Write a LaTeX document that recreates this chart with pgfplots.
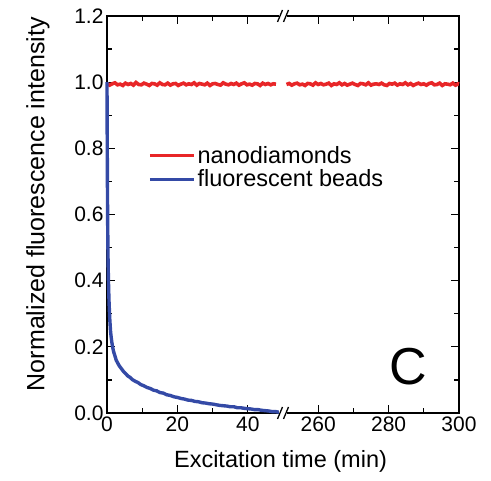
\documentclass[border=0pt]{standalone}
\usepackage{fontspec}
\setmainfont{Liberation Sans}
\usepackage{pgfplots}
\pgfplotsset{compat=1.18}
\usepackage{pgfplotstable}
\usetikzlibrary{calc}
\definecolor{ndred}{RGB}{232,38,40}
\definecolor{beadblue}{RGB}{52,74,166}

% nanodiamonds, first part of the run (min)
\pgfplotstableread{
t y
0 0.996
0.75 0.991
1.5 0.995
2.25 0.998
3 0.992
3.75 0.994
4.5 0.990
5.25 0.997
6 0.993
6.75 0.996
7.5 0.991
8.25 0.999
9 0.993
9.75 0.992
10.5 0.997
11.25 0.994
12 0.990
12.75 0.996
13.5 0.995
14.25 0.991
15 0.998
15.75 0.993
16.5 0.992
17.25 0.997
18 0.991
18.75 0.995
19.5 0.996
20.25 0.990
21 0.994
21.75 0.997
22.5 0.992
23.25 0.995
24 0.993
24.75 0.998
25.5 0.991
26.25 0.996
27 0.994
27.75 0.992
28.5 0.997
29.25 0.990
30 0.995
30.75 0.996
31.5 0.993
32.25 0.991
33 0.998
33.75 0.994
34.5 0.992
35.25 0.996
36 0.993
36.75 0.997
37.5 0.991
38.25 0.995
39 0.998
39.75 0.992
40.5 0.994
41.25 0.991
42 0.996
42.75 0.995
43.5 0.990
44.25 0.997
45 0.993
45.75 0.996
46.5 0.992
47.25 0.995
48 0.994
}\ndA

% nanodiamonds, end of the run (min)
\pgfplotstableread{
t y
251 0.993
251.75 0.996
252.5 0.991
253.25 0.995
254 0.997
254.75 0.992
255.5 0.994
256.25 0.990
257 0.996
257.75 0.995
258.5 0.991
259.25 0.998
260 0.993
260.75 0.996
261.5 0.992
262.25 0.994
263 0.997
263.75 0.990
264.5 0.995
265.25 0.993
266 0.998
266.75 0.992
267.5 0.996
268.25 0.991
269 0.994
269.75 0.997
270.5 0.993
271.25 0.990
272 0.996
272.75 0.995
273.5 0.992
274.25 0.998
275 0.991
275.75 0.994
276.5 0.995
277.25 0.993
278 0.997
278.75 0.992
279.5 0.990
280.25 0.996
281 0.994
281.75 0.997
282.5 0.991
283.25 0.995
284 0.993
284.75 0.998
285.5 0.992
286.25 0.996
287 0.990
287.75 0.994
288.5 0.997
289.25 0.993
290 0.995
290.75 0.991
291.5 0.996
292.25 0.998
293 0.992
293.75 0.993
294.5 0.997
295.25 0.990
296 0.995
296.75 0.994
297.5 0.992
298.25 0.997
299 0.991
299.75 0.995
300 0.994
}\ndB

% fluorescent beads
\pgfplotstableread{
t y
0 1.000
0.05 0.860
0.1 0.735
0.15 0.640
0.2 0.565
0.3 0.465
0.4 0.405
0.5 0.365
0.6 0.330
0.7 0.305
0.8 0.282
0.9 0.265
1.0 0.248
1.2 0.228
1.4 0.212
1.6 0.200
1.8 0.189
2.0 0.181
2.3 0.171
2.6 0.160
3.0 0.152
3.4 0.144
3.8 0.138
4.3 0.131
4.8 0.124
5.3 0.119
5.9 0.112
6.5 0.108
7.2 0.101
8.0 0.096
8.8 0.092
9.6 0.086
10.5 0.082
11.4 0.077
12.3 0.074
13.2 0.069
14.1 0.067
15.0 0.062
16.0 0.060
17.0 0.055
18.0 0.053
19.0 0.049
20.0 0.047
21.0 0.044
22.0 0.042
23.0 0.039
24.0 0.038
25.0 0.035
26.0 0.034
27.0 0.031
28.0 0.030
29.0 0.028
30.0 0.027
31.0 0.025
32.0 0.023
33.0 0.022
34.0 0.021
35.0 0.019
36.0 0.019
37.0 0.016
38.0 0.016
39.0 0.014
40.0 0.013
41.0 0.012
42.0 0.010
43.0 0.010
44.0 0.008
45.0 0.007
46.0 0.006
47.0 0.004
48.0 0.004
49.0 0.002
}\beads

\begin{document}
\begin{tikzpicture}
\begin{axis}[
    scale only axis, width=352pt, height=397pt,
    xmin=0, xmax=100, ymin=0, ymax=1.2,
    axis line style={line width=1.8pt},
    every tick/.style={black, line width=1.3pt},
    tick align=inside,
    major tick length=8pt, minor tick length=5pt,
    xtick={0,20,40,60,80,100},
    xticklabels={0,20,40,260,280,300},
    minor xtick={10,30,70,90},
    ytick={0,0.2,...,1.2},
    minor ytick={0.1,0.3,...,1.1},
    yticklabel style={/pgf/number format/.cd, fixed, fixed zerofill, precision=1},
    /pgf/number format/assume math mode=true,
    ticklabel style={font=\fontsize{21}{24}\selectfont},
    xlabel={Excitation time (min)},
    ylabel={Normalized fluorescence intensity},
    xlabel style={font=\fontsize{23.5}{27}\selectfont, at={(axis description cs:0.493,-0.123)}, anchor=center},
    ylabel style={font=\fontsize{25}{28}\selectfont, at={(axis description cs:-0.196,0.526)}, anchor=center},
    clip=false,
    legend style={at={(axis description cs:0.108,0.682)}, anchor=north west,
        draw=none, fill=none,
        nodes={font=\fontsize{23.5}{27}\selectfont, inner sep=2pt},
        row sep=1pt, /tikz/every even column/.append style={column sep=10pt}},
    legend cell align=left,
    legend image code/.code={\draw[#1, line width=3.4pt, line cap=butt] (0pt,0pt) -- (44pt,0pt);},
]
\addplot[ndred, line width=3.6pt] table[x=t, y=y] {\ndA};
\addlegendentry{nanodiamonds}
\addplot[ndred, line width=3.6pt, forget plot] table[x expr=\thisrow{t}-200, y=y] {\ndB};
\addplot[beadblue, line width=3.4pt] table[x=t, y=y] {\beads};
\addlegendentry{fluorescent beads}
\node[font=\fontsize{52}{56}\selectfont] at (axis description cs:0.855,0.116) {C};
\coordinate (bb) at (axis cs:50,0);
\coordinate (bt) at (axis cs:50,1.2);
\end{axis}
% axis break marks
\foreach \p in {bb,bt}{
  \fill[white] ($(\p)+(-4pt,-3pt)$) rectangle ($(\p)+(4pt,3pt)$);
  \draw[line width=1.3pt] ($(\p)+(-5.5pt,-6pt)$) -- ($(\p)+(-0.5pt,6pt)$);
  \draw[line width=1.3pt] ($(\p)+(0.5pt,-6pt)$) -- ($(\p)+(5.5pt,6pt)$);
}
\path (current axis.south west) ++(-107pt,-68pt) rectangle ++(491pt,481pt);
\end{tikzpicture}
\end{document}
